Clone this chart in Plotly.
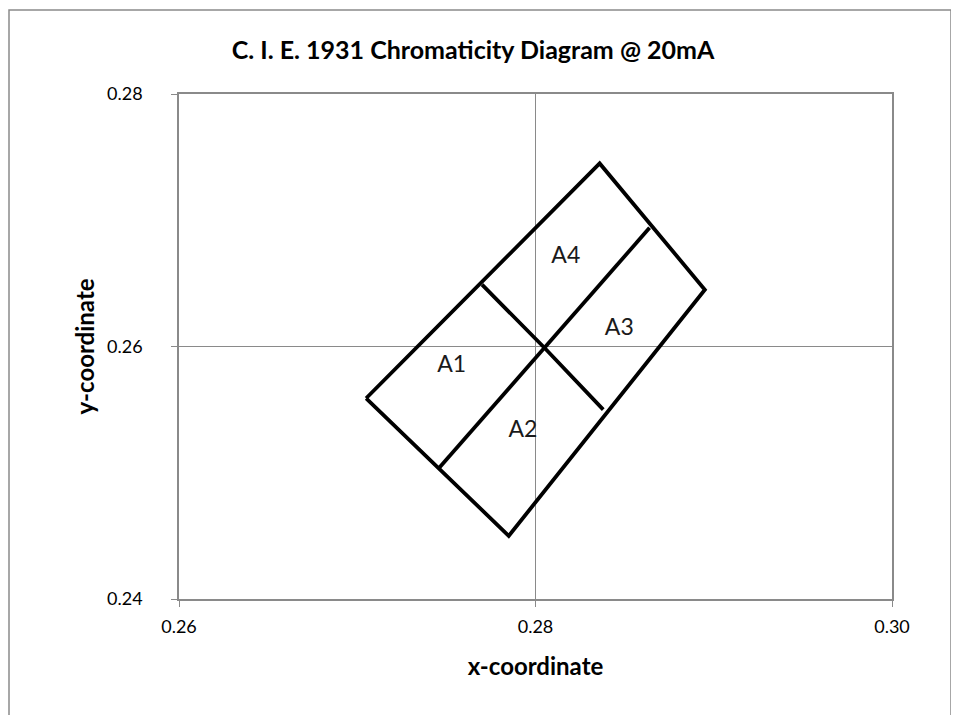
import plotly.graph_objects as go

# Outer bin boundary (left, top, right, bottom, back to left)
outer_x = [0.2705, 0.2836, 0.2895, 0.2785, 0.2705]
outer_y = [0.2559, 0.2745, 0.2645, 0.2450, 0.2559]

# Inner dividing lines through the centre point
div1_x = [0.2770, 0.2805, 0.2838]
div1_y = [0.2649, 0.2599, 0.2550]
div2_x = [0.2746, 0.2805, 0.2864]
div2_y = [0.2504, 0.2599, 0.2694]

# Bin labels
bin_names = ["A1", "A2", "A3", "A4"]
bin_x = [0.2753, 0.2793, 0.2847, 0.2817]
bin_y = [0.2584, 0.2533, 0.2614, 0.2671]

x_ticks = [0.26, 0.28, 0.30]
x_tick_labels = ["0.26", "0.28", "0.30"]
y_ticks = [0.24, 0.26, 0.28]
y_tick_labels = ["0.24", "0.26", "0.28"]

FONT = "Lato, 'Open Sans', sans-serif"
GRAY = "#8a8a8a"
line_style = dict(color="black", width=3.8)

fig = go.Figure()
fig.add_trace(go.Scatter(x=outer_x, y=outer_y, mode="lines", line=line_style,
                         hoverinfo="skip", showlegend=False))
fig.add_trace(go.Scatter(x=div1_x, y=div1_y, mode="lines", line=line_style,
                         hoverinfo="skip", showlegend=False))
fig.add_trace(go.Scatter(x=div2_x, y=div2_y, mode="lines", line=line_style,
                         hoverinfo="skip", showlegend=False))
fig.add_trace(go.Scatter(x=bin_x, y=bin_y, mode="text", text=bin_names,
                         textfont=dict(family=FONT, size=23, color="#1a1a1a"),
                         hoverinfo="skip", showlegend=False))

W, H = 951, 707
L, R, T, B = 171, 67, 86, 116
PW, PH = W - L - R, H - T - B

fig.update_layout(
    width=W, height=H,
    paper_bgcolor="white", plot_bgcolor="white",
    margin=dict(l=L, r=R, t=T, b=B),
    title=dict(text="<b>C. I. E. 1931 Chromaticity Diagram @ 20mA</b>",
               x=0.489, xanchor="center", y=0.9406, yanchor="middle",
               font=dict(family=FONT, size=25, color="black")),
    xaxis=dict(range=[0.26, 0.30], tickvals=x_ticks, ticktext=x_tick_labels,
               showgrid=True, gridcolor=GRAY, gridwidth=1,
               showline=True, linecolor=GRAY, linewidth=1.5, mirror=True,
               ticks="outside", ticklen=6, tickcolor=GRAY, zeroline=False,
               ticklabelstandoff=5,
               tickfont=dict(family=FONT, size=18, color="black"),
               title=dict(text="<b>x-coordinate</b>", standoff=22,
                          font=dict(family=FONT, size=24, color="black"))),
    yaxis=dict(range=[0.24, 0.28], tickvals=y_ticks, ticktext=y_tick_labels,
               showgrid=True, gridcolor=GRAY, gridwidth=1,
               showline=True, linecolor=GRAY, linewidth=1.5, mirror=True,
               ticks="outside", ticklen=6, tickcolor=GRAY, zeroline=False,
               ticklabelstandoff=25,
               tickfont=dict(family=FONT, size=18, color="black"),
               title=dict(text="<b>y-coordinate</b>", standoff=6,
                          font=dict(family=FONT, size=24, color="black"))),
    shapes=[dict(type="rect", xref="paper", yref="paper",
                 x0=(1 - L) / PW, x1=(943 - L) / PW,
                 y0=-(H + 10 - (T + PH)) / PH, y1=(T + PH - 2) / PH,
                 line=dict(color=GRAY, width=1.5), fillcolor="rgba(0,0,0,0)",
                 layer="below")],
)

fig.write_html("out.html")
